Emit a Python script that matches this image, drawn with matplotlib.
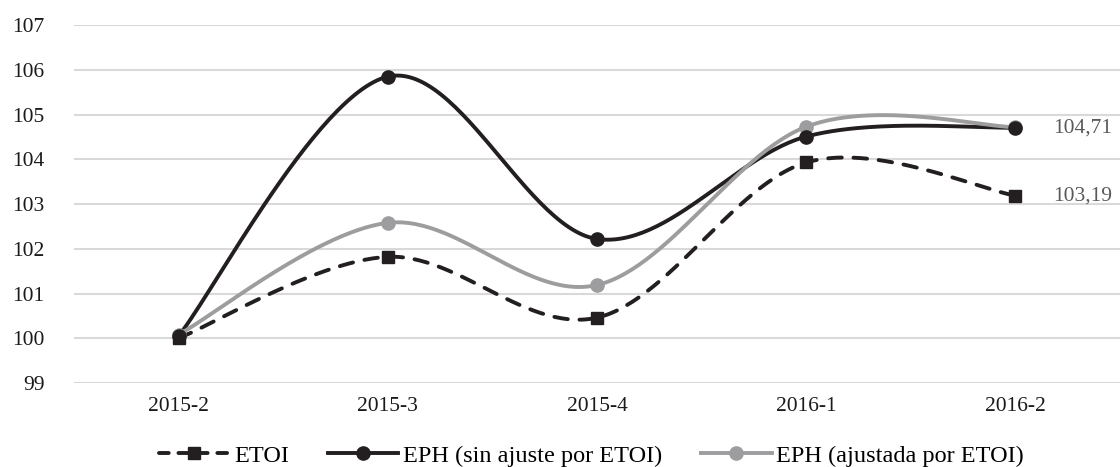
import numpy as np
import matplotlib.pyplot as plt
from matplotlib.lines import Line2D

# data
periods = ['2015-2', '2015-3', '2015-4', '2016-1', '2016-2']
etoi = [100.0, 101.82, 100.46, 103.93, 103.19]
eph_sin = [100.05, 105.85, 102.22, 104.51, 104.71]
eph_aj = [100.08, 102.58, 101.19, 104.73, 104.72]

plt.rcParams['font.family'] = ['Liberation Serif', 'DejaVu Serif']


# smoothed line like the spreadsheet one (Catmull-Rom through the points)
def smooth(y, n=60):
    y = np.asarray(y, dtype=float)
    x = np.arange(len(y), dtype=float)
    px = np.concatenate([[x[0]], x, [x[-1]]])
    py = np.concatenate([[y[0]], y, [y[-1]]])
    xs, ys = [], []
    t = np.linspace(0, 1, n)
    for i in range(1, len(px) - 2):
        p0 = np.array([px[i], py[i]])
        p3 = np.array([px[i + 1], py[i + 1]])
        p1 = p0 + (np.array([px[i + 1], py[i + 1]]) - np.array([px[i - 1], py[i - 1]])) / 6
        p2 = p3 - (np.array([px[i + 2], py[i + 2]]) - np.array([px[i], py[i]])) / 6
        b = ((1 - t) ** 3)[:, None] * p0 + (3 * (1 - t) ** 2 * t)[:, None] * p1 \
            + (3 * (1 - t) * t ** 2)[:, None] * p2 + (t ** 3)[:, None] * p3
        xs.append(b[:, 0])
        ys.append(b[:, 1])
    return np.concatenate(xs), np.concatenate(ys)


black = '#231f20'
grey = '#9d9d9f'

fig = plt.figure(figsize=(11.2, 4.67), dpi=100)
ax = fig.add_axes([0.066, 0.18, 0.934, 0.766])

x = np.arange(len(periods))

sx, sy = smooth(etoi)
ax.plot(sx, sy, color=black, lw=2.8, dashes=(3.5, 3.0), dash_capstyle='round', zorder=3)
ax.plot(x, etoi, 's', color=black, ms=8.5, zorder=4)

sx, sy = smooth(eph_sin)
ax.plot(sx, sy, color=black, lw=2.8, zorder=3)

sx, sy = smooth(eph_aj)
ax.plot(sx, sy, color=grey, lw=2.8, zorder=4)
ax.plot(x, eph_aj, 'o', color=grey, ms=9.5, zorder=5)
ax.plot(x, eph_sin, 'o', color=black, ms=9.5, zorder=6)

# value labels at the last period
for v in [eph_sin[-1], etoi[-1]]:
    ax.annotate(f'{v:.2f}'.replace('.', ','), (x[-1], v), xytext=(27, 0),
                textcoords='offset points', va='center', ha='left',
                color='#595959', fontsize=15.5)

ax.set_xlim(-0.5, len(periods) - 0.5)
ax.set_ylim(99, 107)
ax.set_yticks(range(99, 108))
ax.set_xticks(x)
ax.set_xticklabels(periods)
ax.tick_params(length=0, labelsize=15.5, colors='#1a1a1a')
ax.tick_params(axis='y', pad=21)
ax.tick_params(axis='x', pad=10)
ax.grid(axis='y', color='#d9d9d9', lw=1.5)
ax.set_axisbelow(True)
for s in ax.spines.values():
    s.set_visible(False)

handles = [
    Line2D([], [], color=black, lw=2.8, dashes=(2.5, 2.5), dash_capstyle='round',
           marker='s', ms=8.5),
    Line2D([], [], color=black, lw=2.8, marker='o', ms=9.5),
    Line2D([], [], color=grey, lw=2.8, marker='o', ms=9.5),
]
labels = ['ETOI', 'EPH (sin ajuste por ETOI)', 'EPH (ajustada por ETOI)']
fig.legend(handles, labels, loc='center', bbox_to_anchor=(0.528, 0.024), ncol=3,
           frameon=False, fontsize=17.5, handlelength=2.9, handletextpad=0.2,
           columnspacing=1.6)

fig.savefig('out.png', dpi=100)
